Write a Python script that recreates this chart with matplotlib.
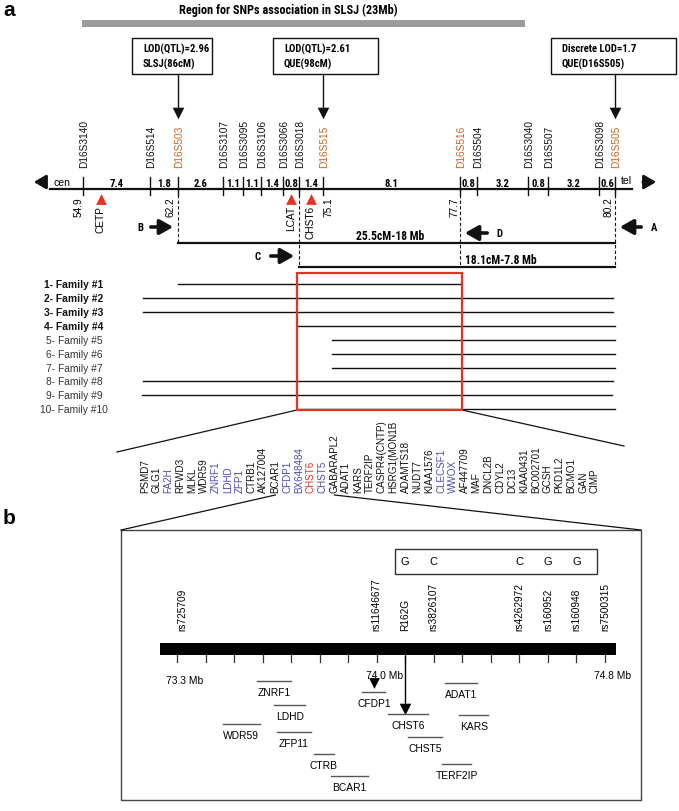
import matplotlib
matplotlib.use("Agg")
import matplotlib.pyplot as plt
from matplotlib import font_manager
from matplotlib.font_manager import FontProperties
from matplotlib.textpath import TextPath
from matplotlib.patches import Rectangle
import numpy as np

plt.rcParams['font.family'] = ['Liberation Sans', 'DejaVu Sans']
_names = {f.name for f in font_manager.fontManager.ttflist}
_narrow = [n for n in ['Roboto Condensed', 'Archivo Narrow', 'PT Sans Narrow', 'Liberation Sans Narrow']
           if n in _names]
BOLD_FAM = _narrow[:1] + ['Liberation Sans']
BOLD_FP = FontProperties(family=BOLD_FAM, weight='bold')


def fit_size(s, px, prop=BOLD_FP):
    """font size (pt) that makes string s about px pixels wide at 100 dpi"""
    w = TextPath((0, 0), s, size=10, prop=prop).get_extents().width
    return 10 * px * 0.72 / w

# ---------------- data: panel a ----------------
title = "Region for SNPs association in SLSJ (23Mb)"
lod_lines1 = ["LOD(QTL)=2.96", "LOD(QTL)=2.61", "Discrete LOD=1.7"]
lod_lines2 = ["SLSJ(86cM)", "QUE(98cM)", "QUE(D16S505)"]
lod_markers = ["D16S503", "D16S515", "D16S505"]

markers = ["D16S3140", "D16S514", "D16S503", "D16S3107", "D16S3095", "D16S3106",
           "D16S3066", "D16S3018", "D16S515", "D16S516", "D16S504", "D16S3040",
           "D16S507", "D16S3098", "D16S505"]
highlight_markers = ["D16S503", "D16S515", "D16S516", "D16S505"]
intervals_cM = [7.4, 1.8, 2.6, 1.1, 1.1, 1.4, 0.8, 1.4, 8.1, 0.8, 3.2, 0.8, 3.2, 0.6]

pos_markers = ["D16S3140", "D16S503", "D16S515", "D16S516", "D16S505"]
pos_values = ["54.9", "62.2", "75.1", "77.7", "80.2"]

cand_genes = ["CETP", "LCAT", "CHST6"]

region_labels = ["25.5cM-18 Mb", "18.1cM-7.8 Mb"]
region_from = ["D16S503", "D16S3018"]
region_to = ["D16S505", "D16S505"]

families = ["1- Family #1", "2- Family #2", "3- Family #3", "4- Family #4",
            "5- Family #5", "6- Family #6", "7- Family #7", "8- Family #8",
            "9- Family #9", "10- Family #10"]
family_bold = [True, True, True, True, False, False, False, False, False, False]

genes_list = ["PSMD7", "GLG1", "FA2H", "RFWD3", "MLKL", "WDR59", "ZNRF1", "LDHD",
              "ZFP1", "CTRB1", "AK127004", "BCAR1", "CFDP1", "BX648484", "CHST6",
              "CHST5", "GABARAPL2", "ADAT1", "KARS", "TERF2IP", "CASPR4(CNTP)",
              "HSRG1(MON1B", "ADAMTS18", "NUDT7", "KIAA1576", "CLECSF1", "WWOX",
              "AF447709", "MAF", "DNCL2B", "CDYL2", "DC13", "KIAA0431", "BC002701",
              "GCSH", "PKD1L2", "BCMO1", "GAN", "CIMP"]
blue_genes = ["FA2H", "ZNRF1", "LDHD", "ZFP1", "CFDP1", "BX648484", "CHST5",
              "CLECSF1", "WWOX"]
red_genes = ["CHST6"]

# ---------------- data: panel b ----------------
snp_names = ["rs725709", "rs11646677", "R162G", "rs3826107", "rs4262972",
             "rs160952", "rs160948", "rs7500315"]
snp_mb = [73.32, 74.0, 74.1, 74.2, 74.5, 74.6, 74.7, 74.8]
hap_alleles = ["G", "C", "C", "G", "G"]
hap_snps = ["R162G", "rs3826107", "rs4262972", "rs160952", "rs160948"]
chrom_start, chrom_end = 73.24, 74.84
scale_labels = ["73.3 Mb", "74.0 Mb", "74.8 Mb"]
scale_mb = [73.3, 74.0, 74.8]

b_genes = ["ZNRF1", "LDHD", "WDR59", "ZFP11", "CTRB", "BCAR1", "CFDP1",
           "CHST6", "CHST5", "ADAT1", "KARS", "TERF2IP"]
b_start = [73.58, 73.64, 73.46, 73.65, 73.78, 73.84, 73.95, 74.04, 74.11, 74.24, 74.29, 74.23]
b_end = [73.70, 73.75, 73.59, 73.77, 73.85, 73.97, 74.03, 74.18, 74.23, 74.35, 74.39, 74.33]
cfdp1_mark_mb = 73.99

# ---------------- layout (pixels) ----------------
W, H = 679, 812
marker_x = [83, 150, 178, 223, 243, 261, 283, 299, 323, 460, 477, 528, 548, 599, 615]
mx = dict(zip(markers, marker_x))
lod_box_x = [(132, 212), (273, 378), (551, 676)]
pos_dx = [-4, -8, 6, -5, -6]
cand_x = [101, 291, 311]
AXIS_Y = 190
region_y = [244, 268]
region_text = [(390, 237, 'center'), (465, 261, 'left')]
family_y = [285, 299, 313, 327, 341, 355, 369, 382, 396, 410]
family_x0 = [178, 143, 143, 297, 332, 332, 332, 143, 142, 297]
family_x1 = [460, 613, 613, 615, 615, 615, 615, 613, 612, 615]
gene_x = np.linspace(145, 595, len(genes_list))
GENE_BASE = 493
b_row_y = [682, 706, 725, 733, 755, 777, 693, 715, 738, 684, 716, 765]

TITLE_SIZE = fit_size(title, 218)
LOD_SIZE = fit_size(lod_lines1[0], 65)
REGION_SIZE = fit_size(region_labels[0], 68)
INT_SIZE = LOD_SIZE

BLACK = '#111111'
ORANGE = '#c8641e'
BLUE = '#4c4cb0'
RED = '#e53222'
GRAY = '#555555'

fig = plt.figure(figsize=(W / 100, H / 100), dpi=100)
ax = fig.add_axes([0, 0, 1, 1])
ax.set_xlim(0, W)
ax.set_ylim(H, 0)
ax.axis('off')


def btext(x, y, s, size, **kw):
    ax.text(x, y, s, fontsize=size, fontweight='bold', family=BOLD_FAM, **kw)

# panel labels
ax.text(3, 10, "a", fontsize=15, fontweight='bold', va='center', ha='left')
ax.text(3, 519, "b", fontsize=15, fontweight='bold', va='center', ha='left')

# title + grey bar
btext(288, 10, title, TITLE_SIZE, ha='center', va='center')
ax.add_patch(Rectangle((82, 21), 443, 7, color='#9b9b9b', lw=0))

# LOD boxes with arrows
for (x0, x1), l1, l2, m in zip(lod_box_x, lod_lines1, lod_lines2, lod_markers):
    ax.add_patch(Rectangle((x0, 39), x1 - x0, 36, fill=False, ec=BLACK, lw=1))
    btext(x0 + 11, 49, l1, LOD_SIZE, ha='left', va='center')
    btext(x0 + 11, 64, l2, LOD_SIZE, ha='left', va='center')
    ax.plot([mx[m], mx[m]], [75, 110], color=BLACK, lw=1)
    ax.scatter([mx[m]], [114], marker='v', s=70, color=BLACK, lw=0, zorder=5)

# chromosome axis
ax.plot([50, 632], [AXIS_Y, AXIS_Y], color=BLACK, lw=1.6)
ax.annotate('', xy=(31, 183), xytext=(48, 183),
            arrowprops=dict(arrowstyle='-|>,head_width=0.35,head_length=0.6',
                            color=BLACK, lw=2, mutation_scale=12))
ax.annotate('', xy=(659, 183), xytext=(640, 183),
            arrowprops=dict(arrowstyle='-|>,head_width=0.35,head_length=0.6',
                            color=BLACK, lw=2, mutation_scale=12))
ax.text(62, 183, "cen", fontsize=7.5, ha='center', va='center')
ax.text(626, 181, "tel", fontsize=7.5, ha='center', va='center')

for name, x in zip(markers, marker_x):
    ax.plot([x, x], [178, 196], color=BLACK, lw=1)
    col = ORANGE if name in highlight_markers else BLACK
    ax.text(x + 1, 168, name, rotation=90, ha='center', va='bottom', fontsize=7.3, color=col)

for i, d in enumerate(intervals_cM):
    xm = (marker_x[i] + marker_x[i + 1]) / 2
    btext(xm, 184, f"{d}", INT_SIZE, ha='center', va='center')

for m, v, dx in zip(pos_markers, pos_values, pos_dx):
    ax.text(mx[m] + dx, 197, v, rotation=90, ha='center', va='top', fontsize=7.3)

ax.scatter(cand_x, [200] * len(cand_x), marker='^', s=60, color=RED, lw=0, zorder=5)
for g, x in zip(cand_genes, cand_x):
    ax.text(x, 206, g, rotation=90, ha='center', va='top', fontsize=7.3)

# dashed drop lines
for m, yb in [("D16S503", 244), ("D16S3018", 268), ("D16S516", 268), ("D16S505", 268)]:
    ax.plot([mx[m], mx[m]], [AXIS_Y, yb], color=BLACK, lw=0.8, ls=(0, (3, 2)))

# region lines
for lab, a, b, y, (tx, ty, ha) in zip(region_labels, region_from, region_to, region_y, region_text):
    ax.plot([mx[a], mx[b]], [y, y], color=BLACK, lw=1.6)
    btext(tx, ty, lab, REGION_SIZE, ha=ha, va='center')

# A-D arrows
arrow_kw = dict(arrowstyle='-|>,head_width=0.45,head_length=0.8', color=BLACK, lw=2.6, mutation_scale=10)
for lab, tip, tail, lx, y in [("B", 176, 148, 140, 228), ("C", 297, 268, 258, 257),
                               ("D", 462, 490, 499, 234), ("A", 617, 644, 654, 228)]:
    ax.annotate('', xy=(tip, y), xytext=(tail, y), arrowprops=arrow_kw)
    btext(lx, y, lab, LOD_SIZE, ha='center', va='center')

# families
for lab, bold, y, x0, x1 in zip(families, family_bold, family_y, family_x0, family_x1):
    ax.text(74, y, lab, fontsize=7.4, ha='center', va='center',
            fontweight='bold' if bold else 'normal', color=BLACK if bold else '#333333')
    ax.plot([x0, x1], [y, y], color=BLACK, lw=1)

ax.add_patch(Rectangle((297, 274), 165, 137, fill=False, ec=RED, lw=1.6, zorder=6))
ax.plot([297, 117], [411, 453], color=BLACK, lw=0.9)
ax.plot([462, 624], [411, 447], color=BLACK, lw=0.9)

# gene list
for g, x in zip(genes_list, gene_x):
    col = BLUE if g in blue_genes else (RED if g in red_genes else BLACK)
    ax.text(x, GENE_BASE, g, rotation=90, ha='center', va='bottom', fontsize=7.1, color=col)

# link to panel b
ax.plot([gene_x[genes_list.index("BCAR1")], 121], [496, 531], color=BLACK, lw=0.9)
ax.plot([gene_x[genes_list.index("GABARAPL2")], 641], [496, 531], color=BLACK, lw=0.9)
ax.add_patch(Rectangle((121, 531), 520, 270, fill=False, ec='#444444', lw=1))

# ---------------- panel b in Mb coordinates ----------------
PX0, MB0, PX_PER_MB = 177, 73.3, 285.3


def px2mb(p):
    return MB0 + (p - PX0) / PX_PER_MB


axb = fig.add_axes([0, 0, 1, 1])
axb.set_xlim(px2mb(0), px2mb(W))
axb.set_ylim(H, 0)
axb.axis('off')
axb.patch.set_alpha(0)

axb.add_patch(Rectangle((chrom_start, 644), chrom_end - chrom_start, 12, color='black', lw=0))
for t in np.arange(73.3, 74.85, 0.1):
    axb.plot([t, t], [656, 663], color='#333333', lw=0.9)
for lab, m in zip(scale_labels, scale_mb):
    axb.text(m + 0.028, 676 if m != 73.3 else 681, lab, fontsize=7.4, ha='center', va='center')

for s, m in zip(snp_names, snp_mb):
    axb.text(m, 631, s, rotation=90, ha='center', va='bottom', fontsize=7.3)

axb.add_patch(Rectangle((px2mb(395), 550), px2mb(597) - px2mb(395), 25,
                        fill=False, ec='#333333', lw=1))
for a, s in zip(hap_alleles, hap_snps):
    axb.text(snp_mb[snp_names.index(s)], 562, a, fontsize=8, ha='center', va='center')

for g, s, e, y in zip(b_genes, b_start, b_end, b_row_y):
    axb.plot([s, e], [y, y], color=GRAY, lw=1)
    axb.text((s + e) / 2, y + 11, g, fontsize=7.4, ha='center', va='center')

axb.scatter([cfdp1_mark_mb], [684], marker='v', s=60, color='black', lw=0)
r162 = snp_mb[snp_names.index("R162G")]
axb.plot([r162, r162], [657, 707], color='black', lw=1)
axb.scatter([r162], [710], marker='v', s=70, color='black', lw=0)

fig.savefig("out.png", dpi=100)
